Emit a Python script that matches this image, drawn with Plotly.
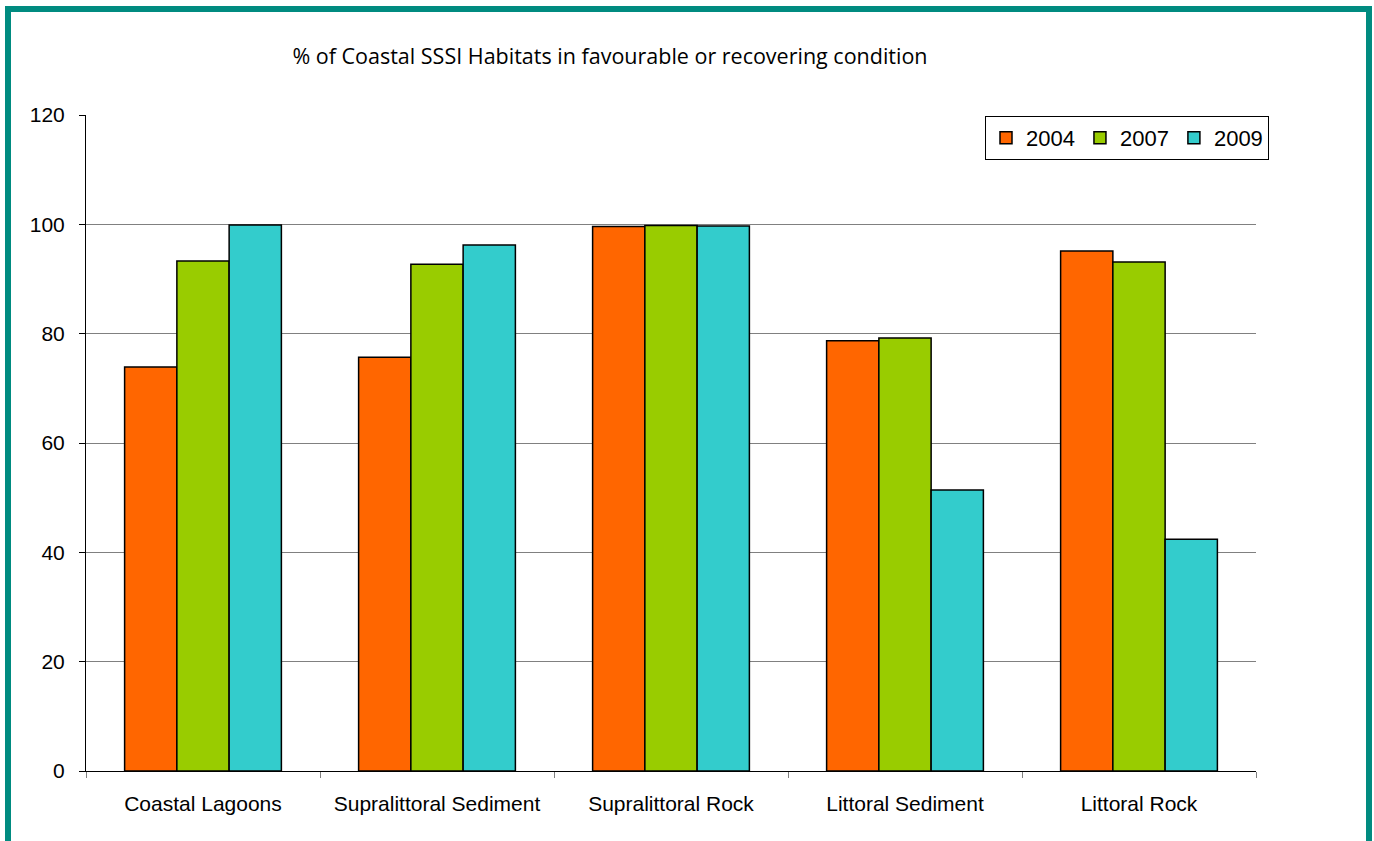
import plotly.graph_objects as go

categories = ["Coastal Lagoons", "Supralittoral Sediment", "Supralittoral Rock", "Littoral Sediment", "Littoral Rock"]
years = ["2004", "2007", "2009"]
vals_2004 = [73.9, 75.7, 99.6, 78.7, 95.1]
vals_2007 = [93.3, 92.7, 99.8, 79.2, 93.1]
vals_2009 = [99.9, 96.2, 99.7, 51.4, 42.4]
colors = ["#FF6600", "#99CC00", "#33CCCC"]
y_ticks = [0, 20, 40, 60, 80, 100, 120]

fig = go.Figure()
for name, vals, col in zip(years, [vals_2004, vals_2007, vals_2009], colors):
    fig.add_trace(go.Bar(x=categories, y=vals, name=name, marker=dict(color=col, line=dict(color="black", width=1.5))))

W, H = 1374, 841
L, R, T, B = 86, 1256, 115, 771
pw, ph = R - L, B - T

def px(x):
    return (x - L) / pw

def py(y):
    return (B - y) / ph

fig.update_layout(
    width=W, height=H,
    margin=dict(l=L, r=W - R, t=T, b=H - B),
    paper_bgcolor="white", plot_bgcolor="white",
    barmode="group", bargap=0.33, bargroupgap=0,
    font=dict(family="Liberation Sans, Arial", size=21, color="black"),
    title=dict(text="% of Coastal SSSI Habitats in favourable or recovering condition",
               x=610 / W, xanchor="center", y=1 - 56 / H, yanchor="middle",
               font=dict(family="Open Sans", size=21.5, color="black")),
    legend=dict(orientation="h", x=px(985), xanchor="left", y=py(116), yanchor="top",
                bordercolor="black", borderwidth=1, bgcolor="white",
                font=dict(size=22), traceorder="normal", itemwidth=30),
    showlegend=True,
)
fig.update_yaxes(range=[0, 120], tickvals=y_ticks, showgrid=True, gridcolor="#808080", gridwidth=1,
                 showline=True, linecolor="black", linewidth=1, ticks="outside", ticklen=6,
                 tickcolor="black", zeroline=False, fixedrange=True, ticklabelstandoff=10)
fig.update_xaxes(showline=True, linecolor="black", linewidth=1, ticks="outside", tickson="boundaries",
                 ticklen=6, tickcolor="#808080", showgrid=False, ticklabelstandoff=14)

fig.add_shape(type="rect", xref="paper", yref="paper",
              x0=px(8), x1=px(1369), y0=py(860), y1=py(9),
              line=dict(color="#008B80", width=6), fillcolor="rgba(0,0,0,0)", layer="above")

fig.write_html("out.html")
